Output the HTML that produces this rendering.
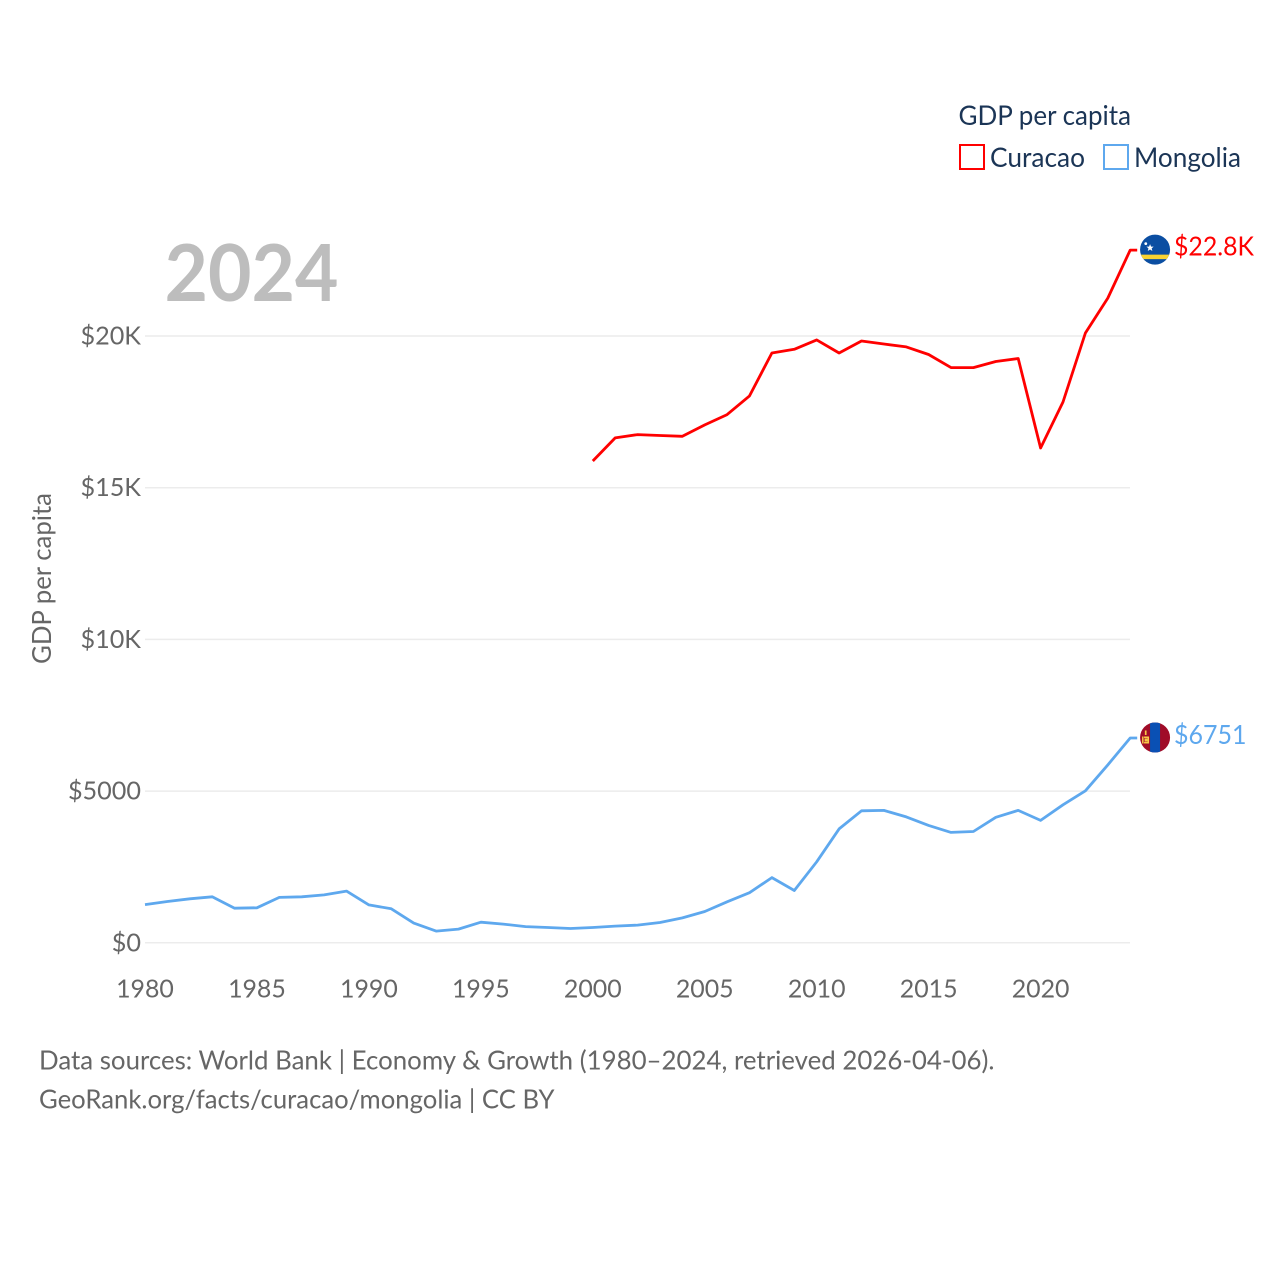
<!DOCTYPE html>
<html lang="en">
<head>
<meta charset="utf-8">
<title>GDP per capita: Curacao and Mongolia</title>
<style>
html,body{margin:0;padding:0;background:#fff;}
svg{display:block;}
text{font-family:"Lato","Carlito","Liberation Sans",sans-serif;}
</style>
</head>
<body>
<svg id="chart" xmlns="http://www.w3.org/2000/svg" width="1280" height="1280" viewBox="0 0 1280 1280">
  <rect width="1280" height="1280" fill="#ffffff"/>
  <g id="grid"></g>
  <g id="yticks"></g>
  <g id="xticks"></g>
  <text x="164.500" y="301" font-size="79" font-weight="700" fill="#bdbdbd" textLength="174" lengthAdjust="spacingAndGlyphs">2024</text>
  <text transform="translate(51,578.500) rotate(-90)" text-anchor="middle" font-size="26.500" fill="#666666" textLength="171" lengthAdjust="spacingAndGlyphs">GDP per capita</text>
  <g id="series"></g>
  <g>
    <text x="958.500" y="125" font-size="27" fill="#1b3556" textLength="172.500" lengthAdjust="spacingAndGlyphs">GDP per capita</text>
    <g>
      <rect x="960" y="145" width="24" height="24" fill="#fff" stroke="#ff0000" stroke-width="2"/>
      <text x="990" y="167" font-size="27" fill="#1b3556" textLength="95" lengthAdjust="spacingAndGlyphs">Curacao</text>
    </g>
    <g>
      <rect x="1104" y="145" width="24" height="24" fill="#fff" stroke="#5ea8ee" stroke-width="2"/>
      <text x="1134" y="167" font-size="27" fill="#1b3556" textLength="107" lengthAdjust="spacingAndGlyphs">Mongolia</text>
    </g>
  </g>
  <text x="39" y="1069.500" font-size="26.500" fill="#666666" textLength="955.500" lengthAdjust="spacingAndGlyphs">Data sources: World Bank | Economy &amp; Growth (1980–2024, retrieved 2026-04-06).</text>
  <text x="39" y="1108.500" font-size="26.500" fill="#666666" textLength="515.500" lengthAdjust="spacingAndGlyphs">GeoRank.org/facts/curacao/mongolia | CC BY</text>
</svg>
<script>
const years = [1980,1981,1982,1983,1984,1985,1986,1987,1988,1989,1990,1991,1992,1993,1994,1995,1996,1997,1998,1999,2000,2001,2002,2003,2004,2005,2006,2007,2008,2009,2010,2011,2012,2013,2014,2015,2016,2017,2018,2019,2020,2021,2022,2023,2024];
const mongoliaValues = [1260,1360,1450,1515,1140,1155,1495,1515,1580,1705,1250,1120,650,385,450,680,615,535,505,470,505,550,585,670,820,1030,1350,1650,2150,1725,2670,3755,4350,4365,4150,3870,3640,3670,4135,4365,4035,4550,5010,5865,6751];
const curacaoValues = [null,null,null,null,null,null,null,null,null,null,null,null,null,null,null,null,null,null,null,null,15880,16640,16750,16720,16695,17070,17410,18025,19440,19560,19870,19440,19835,19735,19640,19390,18960,18960,19160,19260,16310,17825,20100,21250,22830];
const yTickValues = [0,5000,10000,15000,20000];
const yTickLabels = ["$0","$5000","$10K","$15K","$20K"];
const xTickValues = [1980,1985,1990,1995,2000,2005,2010,2015,2020];
const curacaoEndLabel = "$22.8K";
const mongoliaEndLabel = "$6751";

const NS = "http://www.w3.org/2000/svg";
function xScale(year){ return 145 + (year - 1980) * 22.39; }
function yScale(value){ return 942.8 - value * 0.03034; }
function make(tag, attrs, parent){
  const el = document.createElementNS(NS, tag);
  Object.keys(attrs).forEach(function(k){ el.setAttribute(k, attrs[k]); });
  parent.appendChild(el);
  return el;
}
const grid = document.getElementById("grid");
const yticks = document.getElementById("yticks");
const xticks = document.getElementById("xticks");
const seriesGroup = document.getElementById("series");

yTickValues.forEach(function(v, i){
  const line = make("line", {x1:145, x2:1130, y1:yScale(v), y2:yScale(v), stroke:"#ececec", "stroke-width":1.5}, grid);
  
  
  const t = make("text", {x:141, y:yScale(v)+8.5, "text-anchor":"end", "font-size":25.2, fill:"#666666"}, yticks);
  
  
  t.textContent = yTickLabels[i];
});
xTickValues.forEach(function(v){
  const t = make("text", {x:xScale(v), y:997.5, "text-anchor":"middle", "font-size":24.9, fill:"#666666"}, xticks);
  
  
  t.textContent = String(v);
});

function lastIndex(values){
  let last = -1;
  values.forEach(function(v, i){ if (v !== null) last = i; });
  return last;
}
function drawSeries(values, color){
  let d = "";
  values.forEach(function(v, i){
    if (v === null) return;
    d += (d ? "L" : "M") + xScale(years[i]).toFixed(1) + " " + yScale(v).toFixed(1);
  });
  const li = lastIndex(values);
  d += "L" + (xScale(years[li]) + 7).toFixed(1) + " " + yScale(values[li]).toFixed(1);
  return make("path", {d:d, fill:"none", stroke:color, "stroke-width":2.8, "stroke-linejoin":"round"}, seriesGroup);
}
const curacaoLine = drawSeries(curacaoValues, "#ff0000");


const mongoliaLine = drawSeries(mongoliaValues, "#5ea8ee");



function drawFlag(cx, cy, painter, name){
  const g = make("g", {transform:"translate(" + cx + "," + cy + ")"}, seriesGroup);
  
  
  const clipId = name + "-clip";
  const clip = make("clipPath", {id:clipId}, g);
  make("circle", {r:15}, clip);
  const inner = make("g", {"clip-path":"url(#" + clipId + ")"}, g);
  painter(inner);
}
const curacaoIdx = lastIndex(curacaoValues);
const mongoliaIdx = lastIndex(mongoliaValues);
const flagX = xScale(2024) + 24.9;

drawFlag(flagX, yScale(curacaoValues[curacaoIdx]) - 0.5, function(g){
  make("rect", {x:-16, y:-16, width:32, height:32, fill:"#0b4ea2"}, g);
  make("rect", {x:-16, y:5, width:32, height:4.5, fill:"#f9d332"}, g);
  make("polygon", {points:"-5,-5.500 -4,-3 -1.400,-3 -3.400,-1.300 -2.700,1.300 -5,-0.200 -7.300,1.300 -6.600,-1.300 -8.600,-3 -6,-3", fill:"#ffffff"}, g);
  make("circle", {cx:-9.3, cy:-6, r:1.400, fill:"#ffffff"}, g);
}, "curacao-flag");

drawFlag(flagX, yScale(mongoliaValues[mongoliaIdx]) - 0.5, function(g){
  make("rect", {x:-16, y:-16, width:32, height:32, fill:"#a00c28"}, g);
  make("rect", {x:-5, y:-16, width:10, height:32, fill:"#0a50b4"}, g);
  make("rect", {x:-13, y:-1, width:1.500, height:7, fill:"#f7c948"}, g);
  make("rect", {x:-7.500, y:-1, width:1.500, height:7, fill:"#f7c948"}, g);
  make("rect", {x:-11, y:-1, width:4, height:1.600, fill:"#f7c948"}, g);
  make("rect", {x:-11, y:4.400, width:4, height:1.600, fill:"#f7c948"}, g);
  make("rect", {x:-10.500, y:1, width:3, height:3, fill:"#f7c948"}, g);
  make("rect", {x:-10.200, y:-7, width:1.700, height:4.500, fill:"#f7c948"}, g);
}, "mongolia-flag");

const curacaoText = make("text", {x:1174, y:yScale(curacaoValues[curacaoIdx])+5.5, "font-size":26, fill:"#ff0000", textLength:80, lengthAdjust:"spacingAndGlyphs"}, seriesGroup);


curacaoText.textContent = curacaoEndLabel;
const mongoliaText = make("text", {x:1174, y:yScale(mongoliaValues[mongoliaIdx])+6, "font-size":26, fill:"#5ea8ee", textLength:72.5, lengthAdjust:"spacingAndGlyphs"}, seriesGroup);


mongoliaText.textContent = mongoliaEndLabel;
</script>
</body>
</html>
